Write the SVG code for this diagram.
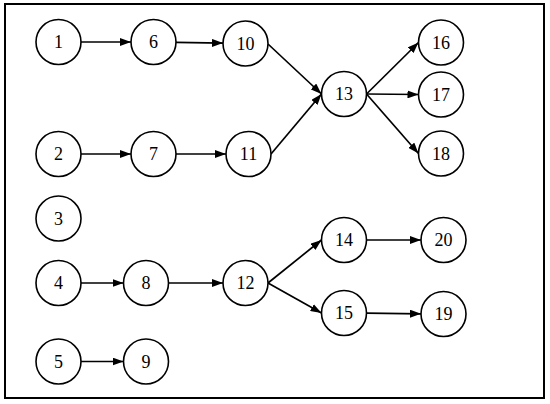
<svg xmlns="http://www.w3.org/2000/svg" width="550" height="404" viewBox="0 0 550 404">
<style>
.n circle{fill:#fff;stroke:#000;stroke-width:1.6}
.n text{font-family:"Liberation Serif","Times New Roman",serif;font-size:18px;text-anchor:middle;fill:#000}
.e line{stroke:#000;stroke-width:1.7;marker-end:url(#ah)}
</style>
<defs>
<marker id="ah" markerUnits="userSpaceOnUse" markerWidth="11" markerHeight="8" refX="11" refY="4" orient="auto">
<path d="M0,0 L11,4 L0,8 z" fill="#000"/>
</marker>
</defs>
<rect x="5" y="4" width="539" height="394" fill="#fff" stroke="#000" stroke-width="2"/>
<g id="connectors" class="e">
<line x1="81" y1="42" x2="131" y2="42"/>
<line x1="176" y1="42.4" x2="223" y2="43.1"/>
<line x1="81" y1="154" x2="131" y2="154"/>
<line x1="176" y1="154" x2="226" y2="154"/>
<line x1="268" y1="44" x2="321.5" y2="94"/>
<line x1="271" y1="154" x2="321.5" y2="94"/>
<line x1="366.5" y1="94" x2="418.5" y2="42.5"/>
<line x1="366.5" y1="94" x2="418.5" y2="94.5"/>
<line x1="366.5" y1="94" x2="418.5" y2="153.5"/>
<line x1="81" y1="283" x2="123.5" y2="283"/>
<line x1="168.5" y1="283" x2="223" y2="283"/>
<line x1="268" y1="283" x2="321.5" y2="240"/>
<line x1="268" y1="283" x2="321.5" y2="313"/>
<line x1="366.5" y1="240" x2="421" y2="240"/>
<line x1="366.5" y1="313.2" x2="421" y2="313.8"/>
<line x1="81" y1="361.5" x2="123.5" y2="361.5"/>
</g>
<g id="n1" class="n"><circle cx="58.5" cy="42" r="22.5"/><text x="58.5" y="48">1</text></g>
<g id="n6" class="n"><circle cx="153.5" cy="42" r="22.5"/><text x="153.5" y="48">6</text></g>
<g id="n10" class="n"><circle cx="245.5" cy="43.5" r="22.5"/><text x="245.5" y="49.5">10</text></g>
<g id="n2" class="n"><circle cx="58.5" cy="154" r="22.5"/><text x="58.5" y="160">2</text></g>
<g id="n7" class="n"><circle cx="153.5" cy="154" r="22.5"/><text x="153.5" y="160">7</text></g>
<g id="n11" class="n"><circle cx="248.5" cy="154" r="22.5"/><text x="248.5" y="160">11</text></g>
<g id="n13" class="n"><circle cx="344" cy="94" r="22.5"/><text x="344" y="100">13</text></g>
<g id="n16" class="n"><circle cx="441" cy="42.5" r="22.5"/><text x="441" y="48.5">16</text></g>
<g id="n17" class="n"><circle cx="441" cy="94.5" r="22.5"/><text x="441" y="100.5">17</text></g>
<g id="n18" class="n"><circle cx="441" cy="153.5" r="22.5"/><text x="441" y="159.5">18</text></g>
<g id="n3" class="n"><circle cx="58.5" cy="218.5" r="22.5"/><text x="58.5" y="224.5">3</text></g>
<g id="n4" class="n"><circle cx="58.5" cy="283" r="22.5"/><text x="58.5" y="289">4</text></g>
<g id="n8" class="n"><circle cx="146" cy="283" r="22.5"/><text x="146" y="289">8</text></g>
<g id="n12" class="n"><circle cx="245.5" cy="283" r="22.5"/><text x="245.5" y="289">12</text></g>
<g id="n14" class="n"><circle cx="344" cy="240" r="22.5"/><text x="344" y="246">14</text></g>
<g id="n20" class="n"><circle cx="443.5" cy="240" r="22.5"/><text x="443.5" y="246">20</text></g>
<g id="n15" class="n"><circle cx="344" cy="313" r="22.5"/><text x="344" y="319">15</text></g>
<g id="n19" class="n"><circle cx="443.5" cy="314" r="22.5"/><text x="443.5" y="320">19</text></g>
<g id="n5" class="n"><circle cx="58.5" cy="361.5" r="22.5"/><text x="58.5" y="367.5">5</text></g>
<g id="n9" class="n"><circle cx="146" cy="361.5" r="22.5"/><text x="146" y="367.5">9</text></g>
</svg>
